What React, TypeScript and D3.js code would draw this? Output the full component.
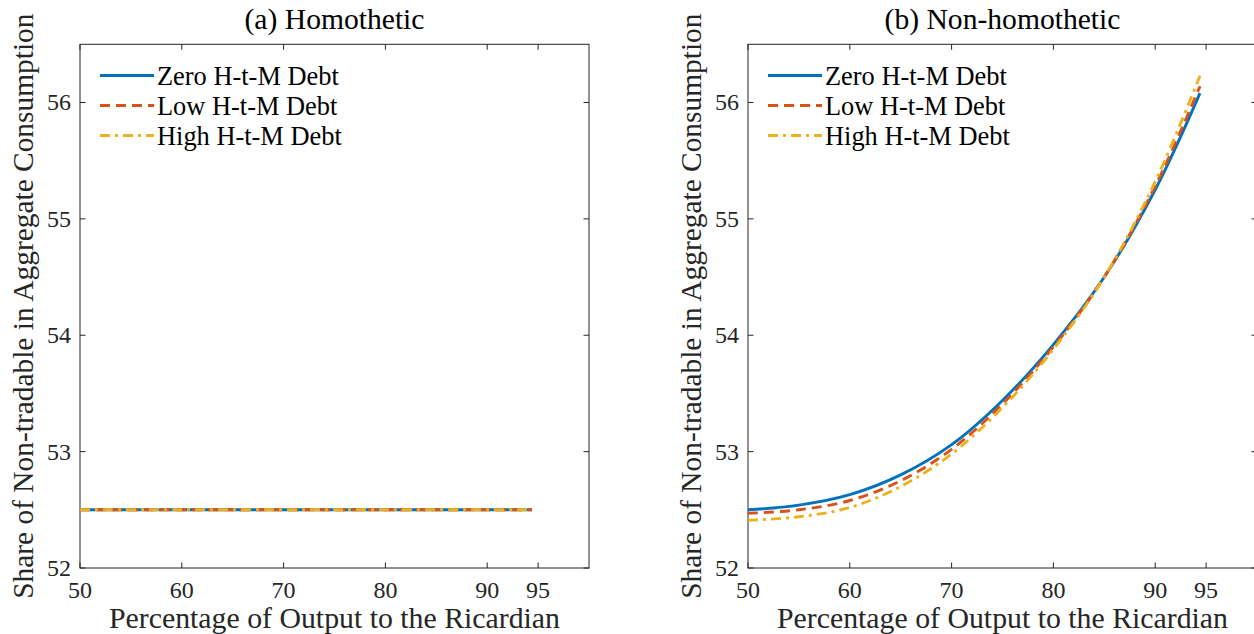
import React from "react";
import * as d3 from "d3";

// ---- data ----
const xTicks = [50, 60, 70, 80, 90, 95];
const yTicks = [52, 53, 54, 55, 56];
const seriesNames = ["Zero H-t-M Debt", "Low H-t-M Debt", "High H-t-M Debt"];
const seriesColors = ["#0072BD", "#D95319", "#EDB120"];
const seriesDash = ["none", "10,6", "10,5,3,5"];

// Panel (a) Homothetic
const homX = [50, 60, 70, 80, 90, 94.4];
const homZero = [52.5, 52.5, 52.5, 52.5, 52.5, 52.5];
const homLow = [52.5, 52.5, 52.5, 52.5, 52.5, 52.5];
const homHigh = [52.5, 52.5, 52.5, 52.5, 52.5, 52.5];

// Panel (b) Non-homothetic
const nonX = [50, 55, 60, 65, 70, 75, 80, 85, 90, 94.4];
const nonZero = [52.5, 52.54, 52.63, 52.8, 53.06, 53.44, 53.92, 54.5, 55.25, 56.08];
const nonLow = [52.47, 52.5, 52.58, 52.75, 53.02, 53.41, 53.9, 54.5, 55.28, 56.14];
const nonHigh = [52.41, 52.44, 52.52, 52.7, 52.98, 53.38, 53.88, 54.5, 55.32, 56.23];

const titles = ["(a) Homothetic", "(b) Non-homothetic"];
const xLabel = "Percentage of Output to the Ricardian";
const yLabel = "Share of Non-tradable in Aggregate Consumption";

const FONT = "'Liberation Serif', 'DejaVu Serif', serif";
const AX = "#262626";
const LW = 2.9;

type PanelProps = {
  x0: number;
  title: string;
  xs: number[];
  ys: number[][];
};

function Panel({ x0, title, xs, ys }: PanelProps) {
  const top = 44.3;
  const bottom = 568;
  const width = 509;
  const x1 = x0 + width;
  const xScale = d3.scaleLinear().domain([50, 100]).range([x0, x1]);
  const yScale = d3.scaleLinear().domain([52, 56.5]).range([bottom, top]);
  const line = d3
    .line<[number, number]>()
    .x((d) => xScale(d[0]))
    .y((d) => yScale(d[1]))
    .curve(d3.curveCatmullRom.alpha(0.5));
  const tl = 5.5;
  const cx = (x0 + x1) / 2;
  const cy = (top + bottom) / 2;
  return (
    <g>
      <text x={cx} y={29} textAnchor="middle" fontFamily={FONT} fontSize={29.6} fill="#000">
        {title}
      </text>
      <rect x={x0} y={top} width={width} height={bottom - top} fill="none" stroke={AX} strokeWidth={1} />
      {xTicks.map((t) => (
        <g key={"x" + t}>
          <line x1={xScale(t)} x2={xScale(t)} y1={bottom} y2={bottom - tl} stroke={AX} strokeWidth={1} />
          <line x1={xScale(t)} x2={xScale(t)} y1={top} y2={top + tl} stroke={AX} strokeWidth={1} />
          <text x={xScale(t)} y={598} textAnchor="middle" fontFamily={FONT} fontSize={24} fill={AX}>
            {t}
          </text>
        </g>
      ))}
      {yTicks.map((t) => (
        <g key={"y" + t}>
          <line x1={x0} x2={x0 + tl} y1={yScale(t)} y2={yScale(t)} stroke={AX} strokeWidth={1} />
          <line x1={x1} x2={x1 - tl} y1={yScale(t)} y2={yScale(t)} stroke={AX} strokeWidth={1} />
          <text x={x0 - 9} y={yScale(t) + 8} textAnchor="end" fontFamily={FONT} fontSize={24} fill={AX}>
            {t}
          </text>
        </g>
      ))}
      <text x={cx} y={628} textAnchor="middle" fontFamily={FONT} fontSize={29.8} fill={AX}>
        {xLabel}
      </text>
      <text
        transform={`translate(${x0 - 47},${cy}) rotate(-90)`}
        textAnchor="middle"
        fontFamily={FONT}
        fontSize={29.4}
        fill={AX}
      >
        {yLabel}
      </text>
      {ys.map((vals, i) => (
        <path
          key={"s" + i}
          d={line(xs.map((x, j) => [x, vals[j]] as [number, number])) || ""}
          fill="none"
          stroke={seriesColors[i]}
          strokeWidth={LW}
          strokeDasharray={seriesDash[i]}
        />
      ))}
      {seriesNames.map((name, i) => {
        const ly = 75.5 + i * 30;
        return (
          <g key={"l" + i}>
            <line
              x1={x0 + 20}
              x2={x0 + 74}
              y1={ly}
              y2={ly}
              stroke={seriesColors[i]}
              strokeWidth={LW}
              strokeDasharray={seriesDash[i]}
            />
            <text x={x0 + 77} y={ly + 9} fontFamily={FONT} fontSize={26.4} fill="#000">
              {name}
            </text>
          </g>
        );
      })}
    </g>
  );
}

export default function App() {
  return (
    <svg
      width={1254}
      height={634}
      style={{ position: "absolute", left: 0, top: 0, background: "#fff" }}
    >
      <rect x={0} y={0} width={1254} height={634} fill="#fff" />
      <Panel x0={80} title={titles[0]} xs={homX} ys={[homZero, homLow, homHigh]} />
      <Panel x0={748} title={titles[1]} xs={nonX} ys={[nonZero, nonLow, nonHigh]} />
    </svg>
  );
}
